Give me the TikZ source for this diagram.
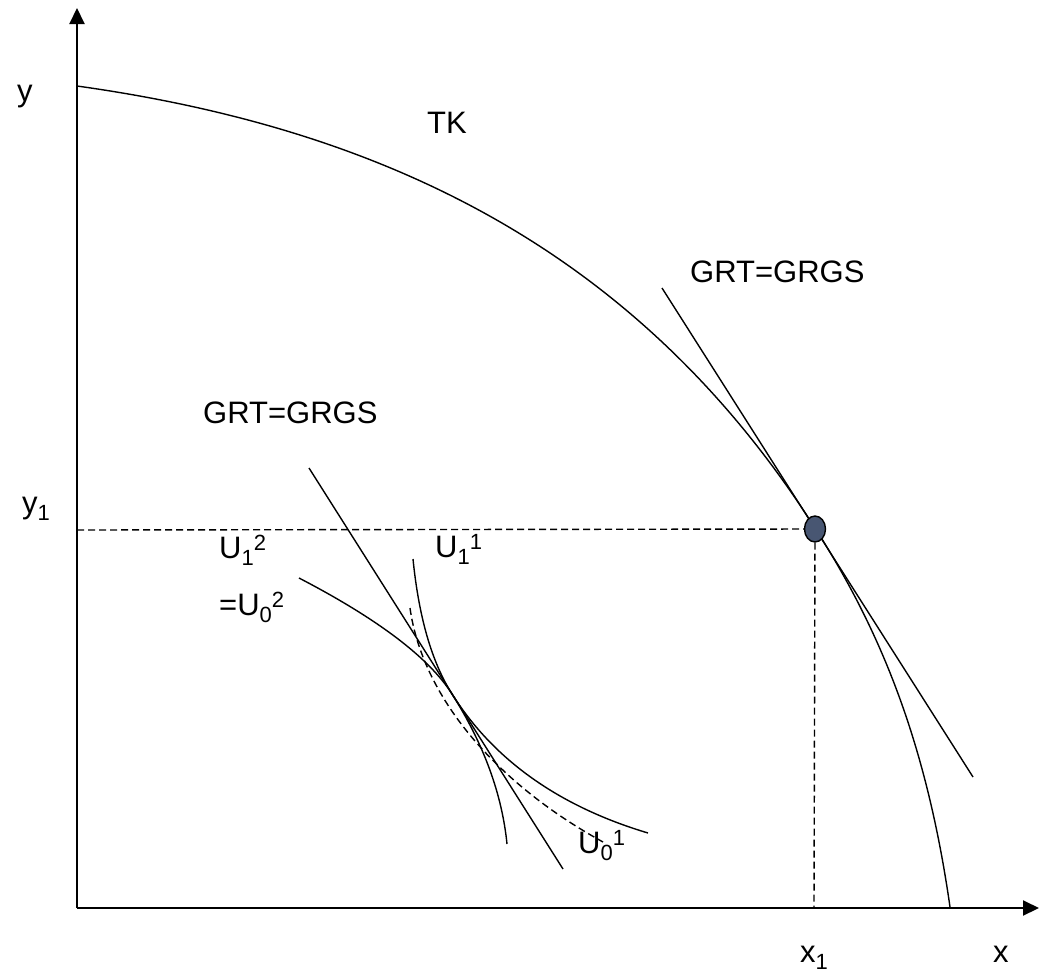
\documentclass[tikz,border=0pt]{standalone}
\usepackage{fontspec}
\setmainfont{Liberation Sans}
\usetikzlibrary{arrows.meta,shapes.geometric}
\definecolor{dotfill}{RGB}{72,86,114}
\newcommand{\mysub}[1]{\raisebox{-7pt}{\fontsize{22}{22}\selectfont #1}}
\newcommand{\mysup}[1]{\raisebox{8pt}{\fontsize{22}{22}\selectfont #1}}
\begin{document}
\begin{tikzpicture}[x=1pt,y=-1pt,
  axis/.style={line width=2pt,-{Triangle[length=16pt,width=15pt]}},
  curve/.style={line width=1.4pt},
  dashline/.style={line width=1.4pt,dash pattern=on 7pt off 4pt},
  lbl/.style={inner sep=0pt,anchor=base west,font=\fontsize{31}{37}\selectfont},
  pointdot/.style={ellipse,draw=black,line width=1.4pt,fill=dotfill,minimum width=21pt,minimum height=26pt,inner sep=0pt}]
\useasboundingbox (0,0) rectangle (1039,972);
% coordinates
\coordinate (O) at (77,908);
\coordinate (ytip) at (77,8);
\coordinate (xtip) at (1039,908);
\coordinate (Y1) at (77,530);
\coordinate (X1) at (814,908);
\coordinate (TKa) at (77,86);
\coordinate (TKb) at (950,907);
\coordinate (T1a) at (662,288);
\coordinate (T1b) at (973,777);
\coordinate (T2a) at (309,468);
\coordinate (T2b) at (563,869);
\coordinate (T) at (452,694);
\coordinate (Ua) at (299,578);
\coordinate (Ub) at (648,833);
\coordinate (Va) at (413,559);
\coordinate (Vb) at (507,844);
\coordinate (Wa) at (410,608);
\coordinate (Wb) at (603,842);
% axes
\draw[axis] (O) -- (ytip);
\draw[axis] (O) -- (xtip);
% transformation curve
\draw[curve] (TKa) .. controls (377,128) and (635,245.4) .. (815,528)
  .. controls (875,622.2) and (925,732) .. (TKb);
% tangent lines
\draw[curve] (T1a) -- (T1b);
\draw[curve] (T2a) -- (T2b);
% indifference curves
\draw[curve] (Ua) .. controls (378.1,619.1) and (429.1,657.8) .. (T)
  .. controls (493.8,760.1) and (559.1,806.4) .. (Ub);
\draw[curve] (Va) .. controls (418.8,617.1) and (431.8,662.1) .. (T)
  .. controls (483.7,744) and (502,794) .. (Vb);
\draw[dashline] (Wa) .. controls (422.2,695.3) and (493.6,781.8) .. (Wb);
% point and dashed guides
\node[pointdot] (E) at (815,529) {};
\draw[dashline] (Y1) -- (E);
\draw[dashline] (E) -- (X1);
% labels
\node[lbl] (ly) at (17,101.5) {y};
\node[lbl] (ly1) at (22,513.5) {y\mysub{1}};
\node[lbl] (ltk) at (427,133) {TK};
\node[lbl] (lg1) at (690,282) {GRT=GRGS};
\node[lbl] (lg2) at (203,423) {GRT=GRGS};
\node[lbl] (lu12) at (219,558) {U\mysub{1}\mysup{2}};
\node[lbl] (lu02) at (219,615) {=U\mysub{0}\mysup{2}};
\node[lbl] (lu11) at (435,557) {U\mysub{1}\mysup{1}};
\node[lbl] (lu01) at (578,853) {U\mysub{0}\mysup{1}};
\node[lbl] (lx1) at (800,962) {x\mysub{1}};
\node[lbl] (lx) at (993,962) {x};
\end{tikzpicture}
\end{document}
